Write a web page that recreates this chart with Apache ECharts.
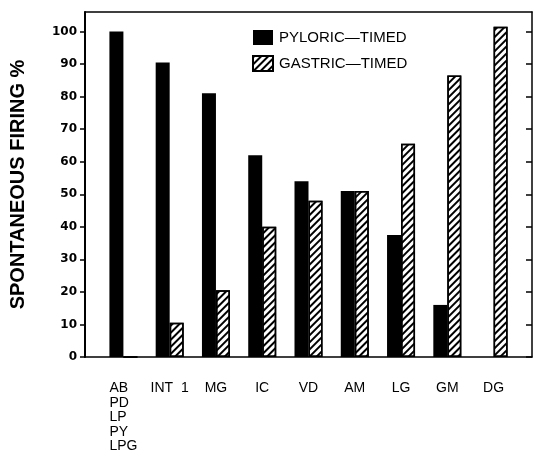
<!DOCTYPE html>
<html>
<head>
<meta charset="utf-8">
<script src="https://cdn.jsdelivr.net/npm/echarts@6/dist/echarts.min.js"></script>
<style>
html,body{margin:0;padding:0;background:#fff;}
#chart{width:533px;height:460px;}
</style>
</head>
<body>
<div id="chart"></div>
<script>
var categories = ['AB\nPD\nLP\nPY\nLPG', 'INT  1', 'MG', 'IC', 'VD', 'AM', 'LG', 'GM', 'DG'];
var pyloricTimed = [100, 90.5, 81, 62, 54, 51, 37.5, 16, 0];
var gastricTimed = [0, 10.5, 20.5, 40, 48, 51, 65.5, 86.5, 101.5];
var yTicks = [0, 10, 20, 30, 40, 50, 60, 70, 80, 90, 100];
var seriesNames = ['PYLORIC\u2014TIMED', 'GASTRIC\u2014TIMED'];
var yTitle = 'SPONTANEOUS FIRING %';

var catIndex = categories.map(function (c, i) { return i; });
var chart = echarts.init(document.getElementById('chart'), null, {renderer: 'canvas'});
var font = '"Liberation Sans", Arial, sans-serif';
var axisMin = -0.83, axisMax = 8.83;

var option = {
  animation: false,
  backgroundColor: '#fff',
  grid: {left: 85, right: 1, top: 12, bottom: 103, containLabel: false},
  legend: {
    left: 247, top: 25, orient: 'vertical', itemWidth: 20, itemHeight: 15, itemGap: 10,
    icon: 'rect',
    textStyle: {fontFamily: font, fontSize: 15, color: '#000', padding: [0, 0, 0, 1]},
    data: seriesNames
  },
  xAxis: [{
    type: 'value', position: 'bottom', min: axisMin, max: axisMax,
    splitLine: {show: false},
    axisLine: {show: true, onZero: false, lineStyle: {color: '#000', width: 1.5}},
    axisTick: {show: false},
    axisLabel: {
      customValues: catIndex, margin: 24,
      fontFamily: font, fontSize: 14, color: '#000', lineHeight: 14.5,
      formatter: function (v) {
        var t = categories[Math.round(v)];
        if (t.indexOf('\n') >= 0) return '{l|' + t.split('\n').join('}\n{l|') + '}';
        return t;
      },
      rich: {l: {align: 'left', fontFamily: font, fontSize: 14, lineHeight: 14.5, color: '#000'}}
    }
  }, {
    type: 'value', position: 'top', min: axisMin, max: axisMax,
    splitLine: {show: false},
    axisLine: {show: true, onZero: false, lineStyle: {color: '#000', width: 1.5}},
    axisTick: {show: false}, axisLabel: {show: false}
  }],
  yAxis: [{
    type: 'value', position: 'left', min: 0, max: 106,
    name: yTitle, nameLocation: 'middle', nameRotate: 90, nameGap: 57,
    nameTextStyle: {fontFamily: font, fontSize: 20, fontWeight: 'bold', color: '#000'},
    splitLine: {show: false},
    axisLine: {show: true, onZero: false, lineStyle: {color: '#000', width: 2}},
    axisTick: {show: true, length: 5, customValues: yTicks, lineStyle: {color: '#000', width: 1.5}},
    axisLabel: {customValues: yTicks, margin: 8, fontFamily: '"DejaVu Sans", sans-serif', fontWeight: 'bold', fontSize: 12, color: '#000'}
  }, {
    type: 'value', position: 'right', min: 0, max: 106,
    splitLine: {show: false},
    axisLine: {show: true, onZero: false, lineStyle: {color: '#000', width: 1.5}},
    axisTick: {show: true, inside: true, length: 6, customValues: yTicks, lineStyle: {color: '#000', width: 1.5}},
    axisLabel: {show: false}
  }],
  series: [{
    name: seriesNames[0], type: 'bar', xAxisIndex: 0, yAxisIndex: 0,
    barWidth: 14, barGap: '0%',
    itemStyle: {color: '#000', borderColor: '#000', borderWidth: 0},
    data: pyloricTimed.map(function (v, i) { return [i, v]; })
  }, {
    name: seriesNames[1], type: 'bar', xAxisIndex: 0, yAxisIndex: 0,
    barWidth: 14, barGap: '0%',
    itemStyle: {
      color: '#fff', borderColor: '#000', borderWidth: 1.5,
      decal: {symbol: 'rect', symbolSize: 1, color: '#000', dashArrayX: [1, 0], dashArrayY: [2, 3], rotation: -Math.PI / 4}
    },
    data: gastricTimed.map(function (v, i) { return [i, v]; })
  }]
};
chart.setOption(option);
</script>
</body>
</html>
